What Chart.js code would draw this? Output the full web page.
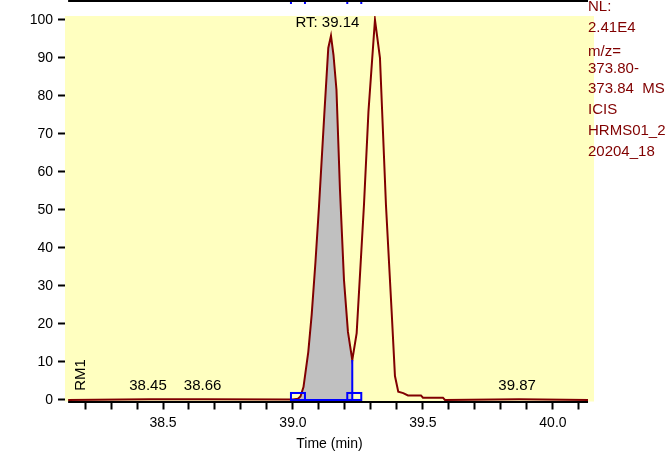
<!DOCTYPE html>
<html>
<head>
<meta charset="utf-8">
<script src="https://cdn.jsdelivr.net/npm/chart.js@4/dist/chart.umd.min.js"></script>
<style>
  body { margin: 0; background: #fff; }
</style>
</head>
<body>
<canvas id="chart" width="671" height="453"></canvas>
<script>
// chromatogram trace (time in min, relative abundance)
const times = [38.135, 38.45, 38.66, 39.0, 39.0192, 39.0288, 39.0404, 39.0588, 39.0719, 39.0865,
  39.1, 39.1204, 39.1358, 39.1462, 39.1558, 39.1673, 39.1808, 39.1962, 39.2115, 39.2281,
  39.245, 39.2731, 39.2904, 39.3154, 39.3346, 39.3577, 39.3796, 39.3923, 39.405, 39.4242,
  39.4423, 39.4923, 39.5, 39.5769, 39.5846, 39.87, 40.135];
const intensity = [0, 0.2, 0.2, 0.1, 0.3, 0.9, 3.4, 12.6, 22.4, 36.3,
  50.8, 75, 92.6, 95.8, 90.8, 81.6, 55.3, 31.6, 17.9, 10.5,
  17.6, 51.3, 75.9, 100, 90, 51.3, 23.2, 6.3, 2.2, 1.8,
  1.2, 1.2, 0.6, 0.6, 0, 0.2, 0];

// integrated peak
const peakStart = 39.0192;
const peakEnd = 39.2281;

const peakLabelTimes = [38.45, 38.66, 39.14, 39.87];
const peakLabelTexts = ["38.45", "38.66", "RT: 39.14", "39.87"];

const infoLines = ["NL:", "2.41E4", "m/z=", "373.80-", "373.84  MS", "ICIS", "HRMS01_2", "20204_18"];
const infoY = [7, 28, 52, 69, 89, 110, 131, 152];

const trace = times.map((t, i) => ({ x: t, y: intensity[i] }));
const area = trace.filter(p => p.x >= peakStart - 1e-6 && p.x <= peakEnd + 1e-6);

const FONT = "Liberation Sans, Arial, sans-serif";

const decorPlugin = {
  id: "decor",
  beforeDraw(chart) {
    const { ctx, chartArea } = chart;
    ctx.save();
    ctx.fillStyle = "#FFFFC0";
    ctx.fillRect(chartArea.left, chartArea.top, chartArea.right - chartArea.left, chartArea.bottom - chartArea.top);
    ctx.restore();
  },
  afterDatasetsDraw(chart) {
    const { ctx } = chart;
    const xs = chart.scales.x;
    const ys = chart.scales.y;
    const y0 = ys.getPixelForValue(0);
    ctx.save();

    // x axis line
    ctx.strokeStyle = "#000";
    ctx.lineWidth = 2;
    ctx.beginPath();
    ctx.moveTo(xs.getPixelForValue(times[0]), 402);
    ctx.lineTo(xs.getPixelForValue(times[times.length - 1]), 402);
    ctx.stroke();

    // integration markers
    const xa = xs.getPixelForValue(peakStart);
    const xb = xs.getPixelForValue(peakEnd);
    const endVal = intensity[times.indexOf(peakEnd)];
    ctx.strokeStyle = "#0000FF";
    ctx.lineWidth = 2;
    ctx.beginPath();
    ctx.moveTo(xa, y0);
    ctx.lineTo(xb, y0);
    ctx.moveTo(xb, ys.getPixelForValue(endVal));
    ctx.lineTo(xb, y0);
    ctx.stroke();
    ctx.strokeRect(xa - 7, y0 - 7, 14, 7);
    ctx.strokeRect(xb - 5, y0 - 7, 14, 7);

    // remains of the panel above
    ctx.beginPath();
    [xa - 7, xa + 7, xb - 5, xb + 9].forEach(x => { ctx.moveTo(x, 0); ctx.lineTo(x, 4); });
    ctx.stroke();
    ctx.strokeStyle = "#000";
    ctx.beginPath();
    ctx.moveTo(xs.getPixelForValue(times[0]), 1);
    ctx.lineTo(xs.getPixelForValue(times[times.length - 1]), 1);
    ctx.stroke();
    ctx.fillStyle = "#000";
    ctx.font = "14px " + FONT;
    ctx.textAlign = "right";
    ctx.textBaseline = "middle";
    ctx.fillText("0", 53, -4);

    // peak labels, above the highest point near each labelled time
    ctx.font = "15px " + FONT;
    ctx.textAlign = "center";
    peakLabelTimes.forEach((t, i) => {
      let v = 0;
      times.forEach((tt, k) => { if (Math.abs(tt - t) < 0.012) v = Math.max(v, intensity[k]); });
      ctx.fillText(peakLabelTexts[i], xs.getPixelForValue(t) - 2, ys.getPixelForValue(v) - 13);
    });

    // RM1
    ctx.save();
    ctx.translate(81, 375);
    ctx.rotate(-Math.PI / 2);
    ctx.fillText("RM1", 0, 0);
    ctx.restore();

    // info text
    ctx.fillStyle = "#800000";
    ctx.textAlign = "left";
    infoLines.forEach((s, i) => ctx.fillText(s, 588, infoY[i]));
    ctx.restore();
  }
};

new Chart(document.getElementById("chart"), {
  type: "line",
  data: {
    datasets: [
      {
        data: trace,
        borderColor: "#800000",
        borderWidth: 2,
        pointRadius: 0,
        fill: false,
        tension: 0
      },
      {
        data: area,
        borderWidth: 0,
        borderColor: "rgba(0,0,0,0)",
        backgroundColor: "#C0C0C0",
        pointRadius: 0,
        fill: "origin",
        tension: 0
      }
    ]
  },
  options: {
    responsive: false,
    animation: false,
    layout: { padding: { left: 0, right: 77, top: 16, bottom: 0 } },
    plugins: { legend: { display: false }, tooltip: { enabled: false } },
    scales: {
      x: {
        type: "linear",
        min: 38.123,
        max: 40.158,
        border: { display: false },
        grid: { drawOnChartArea: false, drawTicks: true, tickLength: 8, tickWidth: 2, tickColor: "#000" },
        ticks: {
          stepSize: 0.1,
          includeBounds: false,
          autoSkip: false,
          maxRotation: 0,
          padding: 5,
          color: "#000",
          font: { family: FONT, size: 14 },
          callback: (v) => Math.abs(v * 2 - Math.round(v * 2)) < 1e-6 ? Number(v).toFixed(1) : ""
        },
        title: { display: true, text: "Time (min)", color: "#000", font: { family: FONT, size: 14 }, padding: { top: 0, bottom: 0 } },
        afterFit(scale) { scale.height = 51.5; }
      },
      y: {
        min: -0.4,
        max: 101,
        border: { display: false },
        grid: { drawOnChartArea: false, drawTicks: true, tickLength: 7, tickWidth: 2, tickColor: "#000" },
        ticks: {
          stepSize: 10,
          includeBounds: false,
          padding: 5,
          color: "#000",
          font: { family: FONT, size: 14 }
        },
        afterFit(scale) { scale.width = 65; }
      }
    }
  },
  plugins: [decorPlugin]
});
</script>
</body>
</html>
